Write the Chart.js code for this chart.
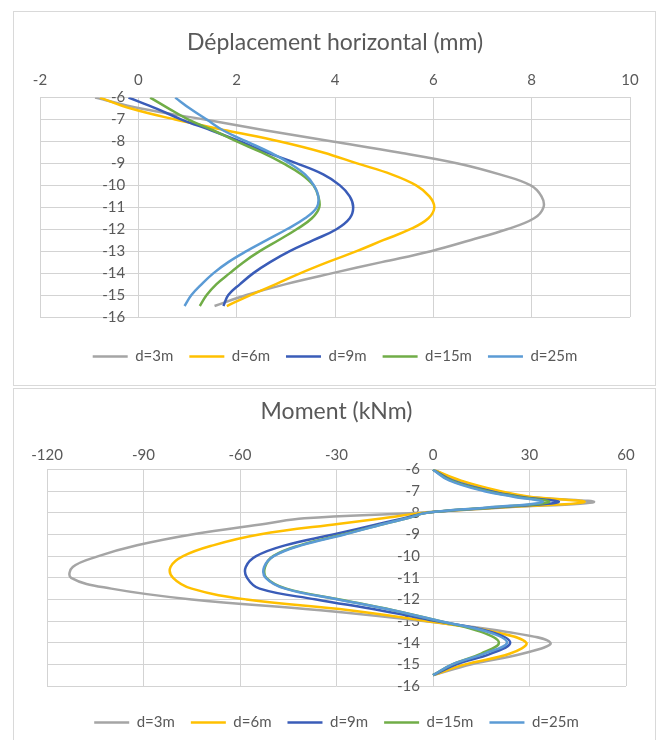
<!DOCTYPE html>
<html>
<head>
<meta charset="utf-8">
<script src="https://cdn.jsdelivr.net/npm/chart.js@4.4.1/dist/chart.umd.min.js"></script>
<style>
  html, body { margin: 0; padding: 0; background: #fff; }
  body { width: 657px; height: 740px; position: relative; overflow: hidden; }
  .panel { position: absolute; left: 13px; width: 641px; border: 1px solid #d9d9d9; background: #fff; }
  #p1 { top: 11px; height: 373px; }
  #p2 { top: 388px; height: 360px; }
  canvas { display: block; }
</style>
</head>
<body>
<div class="panel" id="p1"><canvas id="c1" width="641" height="373"></canvas></div>
<div class="panel" id="p2"><canvas id="c2" width="641" height="360"></canvas></div>
<script>
// Series shared by both profiles
const seriesNames = ['d=3m', 'd=6m', 'd=9m', 'd=15m', 'd=25m'];
const seriesColors = ['#a5a5a5', '#ffc000', '#3a5cb8', '#70ad47', '#5b9bd5'];

// Horizontal displacement (mm) versus depth (m)
const dispDepth = [-6, -6.5, -7, -7.5, -8, -8.5, -9, -9.5, -10, -10.5, -11, -11.5, -12, -12.5, -13, -13.5, -14, -14.5, -15, -15.5];
const disp3m  = [-0.88, 0.05, 1.35, 2.6, 3.95, 5.3, 6.5, 7.35, 7.98, 8.2, 8.24, 8.05, 7.5, 6.75, 5.95, 4.95, 3.95, 3.0, 2.2, 1.55];
const disp6m  = [-0.78, -0.15, 0.75, 1.8, 2.88, 3.76, 4.45, 5.15, 5.65, 5.92, 6.02, 5.9, 5.53, 4.98, 4.44, 3.85, 3.3, 2.8, 2.28, 1.8];
const disp9m  = [-0.2, 0.37, 0.88, 1.49, 2.07, 2.61, 3.22, 3.76, 4.1, 4.3, 4.37, 4.3, 4.03, 3.56, 3.08, 2.68, 2.34, 2.07, 1.83, 1.73];
const disp15m = [0.24, 0.62, 1.02, 1.53, 2.0, 2.51, 2.95, 3.32, 3.56, 3.66, 3.68, 3.53, 3.22, 2.85, 2.47, 2.14, 1.86, 1.59, 1.39, 1.25];
const disp25m = [0.75, 1.05, 1.39, 1.73, 2.2, 2.68, 3.08, 3.39, 3.57, 3.66, 3.63, 3.39, 3.02, 2.61, 2.2, 1.83, 1.53, 1.29, 1.08, 0.94];

// Bending moment (kNm) versus depth (m)
const momDepth = [-6, -6.5, -7, -7.25, -7.5, -7.75, -8, -8.25, -8.5, -9, -9.5, -10, -10.5, -11, -11.5, -12, -12.5, -13, -13.5, -14, -14.5, -15, -15.5];
const mom3m  = [0, 8, 20, 29, 50, 22, -6, -40, -52, -75, -92, -104, -112, -112.5, -100, -75, -35, -3, 23, 36.5, 28, 12, 0];
const mom6m  = [0, 8.5, 21, 30, 47, 21, -3, -15.5, -29, -54, -68.4, -77.7, -81.6, -80.8, -75, -58, -26, -2, 19, 29, 24, 10, 0];
const mom9m  = [0, 6, 18, 27, 39, 19, -2, -9, -16.6, -31, -46, -55, -58.2, -57.8, -53.9, -36.3, -16.6, 1, 18, 24, 18, 7.3, 0];
const mom15m = [0, 5.5, 17, 26, 36, 18, -2, -8, -15, -28, -41.5, -49.7, -52.2, -51.8, -45.6, -29, -12.4, 2, 15, 20.5, 15, 6, 0];
const mom25m = [0, 5, 16, 25, 34, 17, -2, -8, -15, -27.5, -41, -49.5, -52.5, -52, -46, -29.5, -12.5, 2, 17, 23, 16, 6, 0];

// Axis tick settings
const depthMin = -16, depthMax = -6, depthStep = 1;
const dispMin = -2, dispMax = 10, dispStep = 2;
const momMin = -120, momMax = 60, momStep = 30;

const TEXT = '#595959';
const GRID = '#d3d3d3';
Chart.defaults.font.family = 'Lato, "Open Sans", sans-serif';
Chart.defaults.color = TEXT;

function buildDatasets(depth, valueLists) {
  return valueLists.map((vals, i) => ({
    label: seriesNames[i],
    data: vals.map((v, k) => ({ x: v, y: depth[k] })),
    borderColor: seriesColors[i],
    backgroundColor: seriesColors[i],
    borderWidth: 2.5,
    pointRadius: 0,
    pointHoverRadius: 0,
    showLine: true,
    tension: 0.4,
    order: valueLists.length - i   // later series drawn on top
  }));
}

function profileChart(canvasId, cfg) {
  return new Chart(document.getElementById(canvasId), {
    type: 'scatter',
    data: { datasets: buildDatasets(cfg.depth, cfg.series) },
    options: {
      responsive: false,
      animation: false,
      devicePixelRatio: 1,
      events: [],
      layout: { padding: cfg.padding },
      plugins: {
        title: {
          display: true,
          text: cfg.title,
          color: TEXT,
          font: { size: 23, weight: 'normal' },
          padding: { top: cfg.titleTop, bottom: 0 }
        },
        legend: {
          position: 'bottom',
          reverse: true,
          title: { display: true, text: '', font: { size: 10 }, padding: { top: cfg.legendGap, bottom: 0 } },
          labels: {
            usePointStyle: true,
            pointStyle: 'line',
            pointStyleWidth: 35,
            padding: 16,
            color: TEXT,
            font: { size: 15 }
          }
        },
        tooltip: { enabled: false }
      },
      scales: {
        x: {
          type: 'linear',
          position: 'top',
          min: cfg.xMin, max: cfg.xMax,
          grid: { color: GRID, drawTicks: false },
          border: { color: GRID },
          ticks: { stepSize: cfg.xStep, padding: cfg.xTickPad, font: { size: 15 }, color: TEXT,
                   callback: v => String(v) },
          afterFit: s => { s.height = cfg.xHeight; }
        },
        y: {
          type: 'linear',
          position: { x: 0 },
          min: depthMin, max: depthMax,
          grid: { color: GRID, drawTicks: false },
          border: { color: GRID },
          ticks: { stepSize: depthStep, font: { size: 15 }, color: TEXT,
                   callback: v => String(v) + '\u2003\u2009' }
        }
      }
    }
  });
}

profileChart('c1', {
  title: 'Déplacement horizontal (mm)',
  depth: dispDepth,
  series: [disp3m, disp6m, disp9m, disp15m, disp25m],
  xMin: dispMin, xMax: dispMax, xStep: dispStep,
  padding: { left: 26, right: 25, top: 0, bottom: 11 },
  titleTop: 17, xHeight: 41, xTickPad: 8.5, legendGap: 4
});

profileChart('c2', {
  title: 'Moment (kNm)',
  depth: momDepth,
  series: [mom3m, mom6m, mom9m, mom15m, mom25m],
  xMin: momMin, xMax: momMax, xStep: momStep,
  padding: { left: 33, right: 29, top: 0, bottom: 9 },
  titleTop: 9, xHeight: 44, xTickPad: 5, legendGap: 1
});
</script>
</body>
</html>
